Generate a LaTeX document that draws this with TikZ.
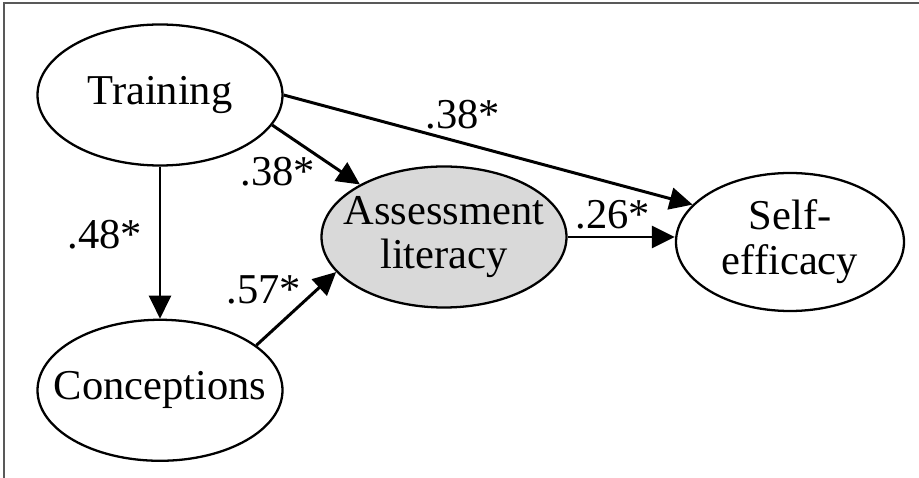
\documentclass[tikz,border=0pt]{standalone}
\usepackage{fontspec}
\setmainfont{Liberation Serif}
\usetikzlibrary{arrows.meta, shapes.geometric, positioning}

\begin{document}
\begin{tikzpicture}[
  construct/.style={draw, ellipse, line width=1.3pt, minimum width=4.9cm, minimum height=2.82cm, inner sep=-3cm, align=center, font=\fontsize{24.2}{25.5}\selectfont},
  coef/.style={font=\fontsize{24.2}{25.5}\selectfont},
  effect/.style={-{Triangle[length=0.46cm, width=0.44cm]}, line width=1.7pt}
  ]
  \useasboundingbox (0,0) rectangle (18.38,-9.56);
  \draw[black!65, line width=1.2pt] (0.08,-9.56) |- (18.38,-0.06);

  \draw node[construct] at (3.2,-1.9) (train) {Training}
  node[construct, below=3.04cm of train] (conc) {Conceptions}
  node[construct, fill=black!15] at (8.88,-4.74) (assess) {Assessment\\literacy}
  node[construct, minimum width=4.56cm, minimum height=2.76cm] at (15.8,-4.84) (self) {Self-\\efficacy};

  \path[effect] (train) edge (conc)
  (train.-15) edge (assess.148)
  (train.east) edge (self.159)
  (conc.25) edge (assess.198)
  (assess.east) edge (assess.east -| self.west);

  \draw node[coef] at (9.26,-2.3) (ts) {.38*}
  node[coef] at (5.56,-3.44) (ta) {.38*}
  node[coef] at (2.1,-4.7) (tc) {.48*}
  node[coef] at (5.28,-5.8) (ca) {.57*}
  node[coef] at (12.26,-4.3) (as) {.26*};
\end{tikzpicture}
\end{document}
